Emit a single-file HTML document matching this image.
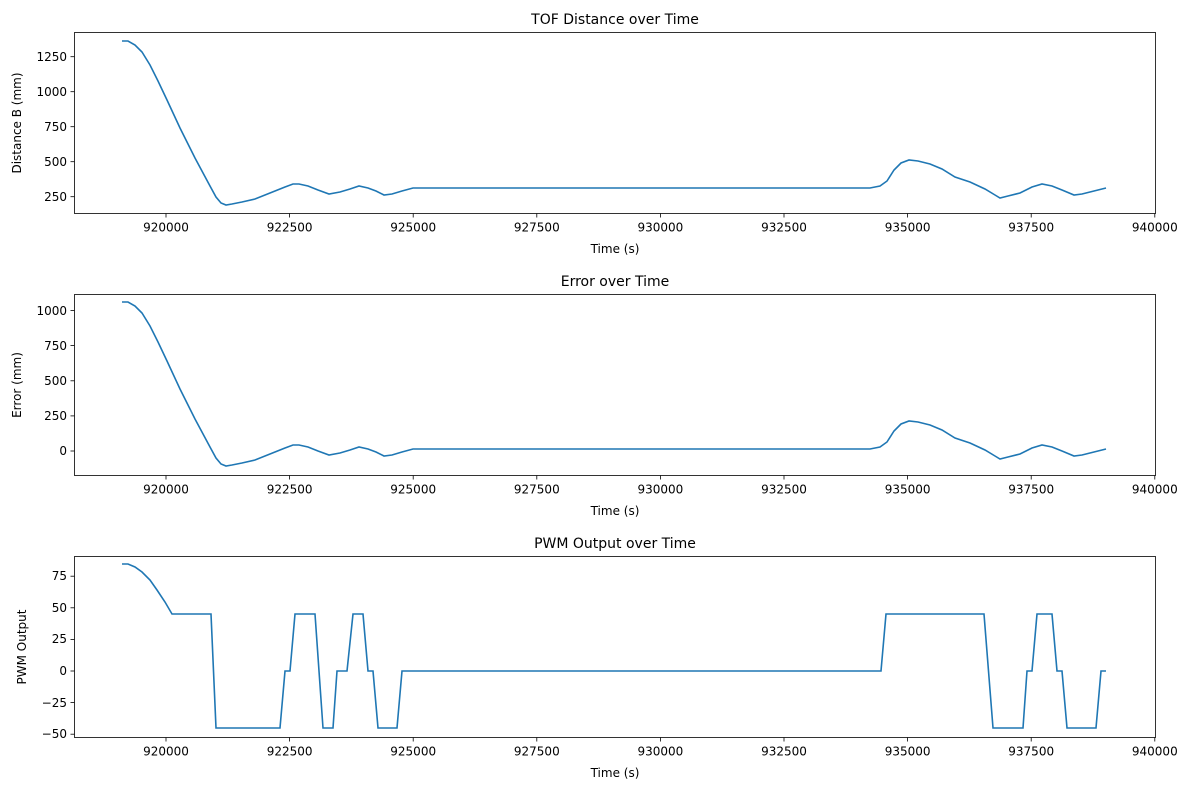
<!DOCTYPE html>
<html><head><style>
body{margin:0;background:#fff}
svg text{font-family:"DejaVu Sans","Liberation Sans",sans-serif;fill:#000}
</style></head><body>
<svg width="1189" height="790" viewBox="0 0 1189 790" xmlns="http://www.w3.org/2000/svg">
<defs>
<g id="xt" stroke="#000" stroke-width="0.8">
<line x1="166" y1="0" x2="166" y2="4"/><line x1="289.6" y1="0" x2="289.6" y2="4"/><line x1="413.2" y1="0" x2="413.2" y2="4"/><line x1="536.8" y1="0" x2="536.8" y2="4"/><line x1="660.4" y1="0" x2="660.4" y2="4"/><line x1="784" y1="0" x2="784" y2="4"/><line x1="907.6" y1="0" x2="907.6" y2="4"/><line x1="1031.2" y1="0" x2="1031.2" y2="4"/><line x1="1154.8" y1="0" x2="1154.8" y2="4"/>
</g>
<g id="xl" font-size="12" text-anchor="middle">
<text x="166" y="18">920000</text><text x="289.6" y="18">922500</text><text x="413.2" y="18">925000</text><text x="536.8" y="18">927500</text><text x="660.4" y="18">930000</text><text x="784" y="18">932500</text><text x="907.6" y="18">935000</text><text x="1031.2" y="18">937500</text><text x="1154.8" y="18">940000</text>
</g>
<polyline id="tof" fill="none" stroke="#1f77b4" stroke-width="1.6" points="122,41 128,41 135,45 142,52 150,65 158,81 167,100 180,128 195,158 210,186 216,197 221,203 226,205 232,204 242,202 255,199 270,193 285,187 293,184 299,184 308,186 318,190 329,194 340,192 350,189 359,186 368,188 376,191 384,195 392,194 402,191 413,188 430,188 460,188 870,188 880,186 887,181 894,170 901,163 909,160 918,161 930,164 942,169 955,177 970,182 985,189 995,195 1000,198 1008,196 1020,193 1032,187 1042,184 1052,186 1062,190 1074,195 1082,194 1094,191 1106,188"/>
</defs>
<rect width="1189" height="790" fill="#fff"/>

<!-- Plot 1 -->
<text x="615" y="24" font-size="14" text-anchor="middle">TOF Distance over Time</text>
<use href="#tof"/>
<rect x="74.5" y="32.5" width="1081" height="181" fill="none" stroke="#000" stroke-width="0.8"/>
<g transform="translate(0,213.5)"><use href="#xt"/><use href="#xl"/></g>
<text x="615" y="253" font-size="12" text-anchor="middle">Time (s)</text>
<g font-size="12" text-anchor="end">
<text x="67" y="61">1250</text><text x="67" y="96">1000</text><text x="67" y="131">750</text><text x="67" y="166">500</text><text x="67" y="201">250</text>
</g>
<g stroke="#000" stroke-width="0.8"><line x1="70.5" y1="56.7" x2="74.5" y2="56.7"/><line x1="70.5" y1="91.7" x2="74.5" y2="91.7"/><line x1="70.5" y1="126.7" x2="74.5" y2="126.7"/><line x1="70.5" y1="161.7" x2="74.5" y2="161.7"/><line x1="70.5" y1="196.7" x2="74.5" y2="196.7"/></g>
<text transform="translate(21,123) rotate(-90)" font-size="12" text-anchor="middle">Distance B (mm)</text>

<!-- Plot 2 -->
<text x="615" y="286" font-size="14" text-anchor="middle">Error over Time</text>
<g transform="translate(0,261)"><use href="#tof"/></g>
<rect x="74.5" y="294.5" width="1081" height="181" fill="none" stroke="#000" stroke-width="0.8"/>
<g transform="translate(0,475.5)"><use href="#xt"/><use href="#xl"/></g>
<text x="615" y="515" font-size="12" text-anchor="middle">Time (s)</text>
<g font-size="12" text-anchor="end">
<text x="67" y="315">1000</text><text x="67" y="350">750</text><text x="67" y="385">500</text><text x="67" y="420">250</text><text x="67" y="455">0</text>
</g>
<g stroke="#000" stroke-width="0.8"><line x1="70.5" y1="310.5" x2="74.5" y2="310.5"/><line x1="70.5" y1="345.6" x2="74.5" y2="345.6"/><line x1="70.5" y1="380.8" x2="74.5" y2="380.8"/><line x1="70.5" y1="415.9" x2="74.5" y2="415.9"/><line x1="70.5" y1="451" x2="74.5" y2="451"/></g>
<text transform="translate(21,385) rotate(-90)" font-size="12" text-anchor="middle">Error (mm)</text>

<!-- Plot 3 -->
<text x="615" y="548" font-size="14" text-anchor="middle">PWM Output over Time</text>
<polyline fill="none" stroke="#1f77b4" stroke-width="1.6" points="122,564 128,564 135,567 142,572 150,580 157,590 165,602 172,614 211,614 216,728 280,728 285,671 290,671 295,614 315,614 323,728 333,728 337,671 347,671 353,614 363,614 368,671 373,671 378,728 397,728 402,671 881,671 886,614 984,614 993,728 1023,728 1027,671 1032,671 1037,614 1052,614 1057,671 1062,671 1067,728 1096,728 1101,671 1106,671"/>
<rect x="74.5" y="556.5" width="1081" height="181" fill="none" stroke="#000" stroke-width="0.8"/>
<g transform="translate(0,737.5)"><use href="#xt"/><use href="#xl"/></g>
<text x="615" y="777" font-size="12" text-anchor="middle">Time (s)</text>
<g font-size="12" text-anchor="end">
<text x="67" y="580">75</text><text x="67" y="612">50</text><text x="67" y="643">25</text><text x="67" y="675">0</text><text x="67" y="707">−25</text><text x="67" y="738">−50</text>
</g>
<g stroke="#000" stroke-width="0.8"><line x1="70.5" y1="576.2" x2="74.5" y2="576.2"/><line x1="70.5" y1="607.8" x2="74.5" y2="607.8"/><line x1="70.5" y1="639.4" x2="74.5" y2="639.4"/><line x1="70.5" y1="671" x2="74.5" y2="671"/><line x1="70.5" y1="702.6" x2="74.5" y2="702.6"/><line x1="70.5" y1="734.2" x2="74.5" y2="734.2"/></g>
<text transform="translate(26,647) rotate(-90)" font-size="12" text-anchor="middle">PWM Output</text>
</svg>
</body></html>
